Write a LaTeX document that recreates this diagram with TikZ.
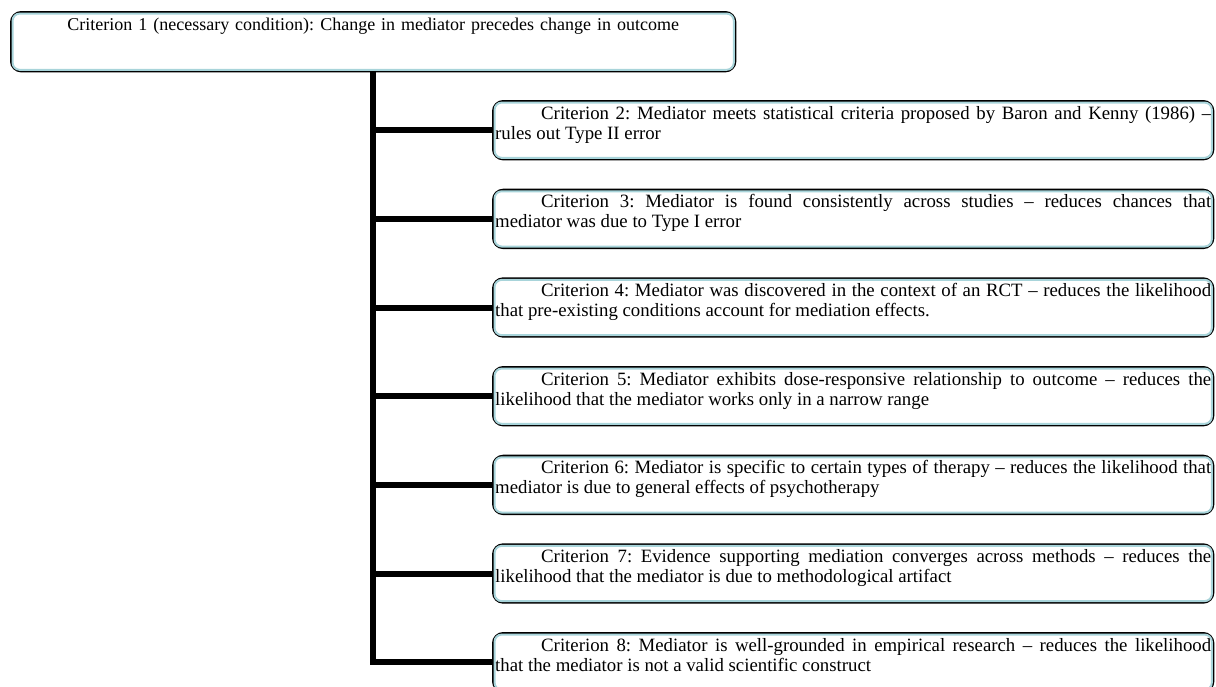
\documentclass[tikz,border=0pt]{standalone}
\usepackage{fontspec}
\setmainfont{Liberation Serif}
\definecolor{boxblue}{RGB}{168,212,218}
\tikzset{
	critbox/.style={rectangle, draw=black, line width=1.2pt, rounded corners=5pt, anchor=north west,
		inner sep=1pt, text width=358pt, align=justify, text height=8pt, text depth=19pt,
		font=\fontsize{9.4}{10}\selectfont},
	stem/.style={line width=3pt},
}
\newcommand{\ind}{\hspace*{23pt}}
\frenchspacing

\begin{document}
\begin{tikzpicture}[x=0.5pt, y=-0.5pt]
	\useasboundingbox (0,0) rectangle (1216,686);
	% top criterion
	\node[critbox, text width=360pt, align=center, text depth=19.5pt, font=\fontsize{9}{10}\selectfont] (c1) at (10,11)
		{Criterion 1 (necessary condition): Change in mediator precedes change in outcome};
	% the other criteria, one under the other
	\node[critbox] (c2) at (492,100)
		{\ind Criterion 2: Mediator meets statistical criteria proposed by Baron and Kenny (1986) --\linebreak rules out Type II error};
	\node[critbox] (c3) at (492,188.7)
		{\ind Criterion 3: Mediator is found consistently across studies -- reduces chances that\linebreak mediator was due to Type I error};
	\node[critbox] (c4) at (492,277.3)
		{\ind Criterion 4: Mediator was discovered in the context of an RCT -- reduces the likelihood\linebreak that pre-existing conditions account for mediation effects.};
	\node[critbox] (c5) at (492,366)
		{\ind Criterion 5: Mediator exhibits dose-responsive relationship to outcome -- reduces the\linebreak likelihood that the mediator works only in a narrow range};
	\node[critbox] (c6) at (492,454.7)
		{\ind Criterion 6: Mediator is specific to certain types of therapy -- reduces the likelihood that\linebreak mediator is due to general effects of psychotherapy};
	\node[critbox] (c7) at (492,543.3)
		{\ind Criterion 7: Evidence supporting mediation converges across methods -- reduces the\linebreak likelihood that the mediator is due to methodological artifact};
	\node[critbox] (c8) at (492,632)
		{\ind Criterion 8: Mediator is well-grounded in empirical research -- reduces the likelihood\linebreak that the mediator is not a valid scientific construct};
	% light inner rim of each box
	\foreach \n in {c1,c2,c3,c4,c5,c6,c7,c8} {
		\draw[boxblue, line width=1pt, rounded corners=3.5pt] ([shift={(1.3pt,-1.3pt)}]\n.north west) rectangle ([shift={(-1.3pt,1.3pt)}]\n.south east);
	}
	% trunk and branches
	\coordinate (trunkend) at (c1.south |- c8.west);
	\draw[stem] (c1.south) -- ([yshift=-1.5pt]trunkend);
	\foreach \n in {c2,c3,c4,c5,c6,c7,c8} { \draw[stem] ([xshift=-1.5pt]c1.south |- \n.west) -- (\n.west); }
\end{tikzpicture}
\end{document}
